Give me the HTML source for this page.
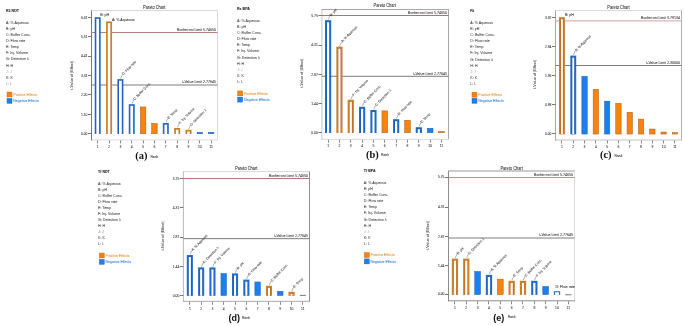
<!DOCTYPE html>
<html><head><meta charset="utf-8"><style>
html,body{margin:0;padding:0;background:#fff;}
svg{display:block;font-family:"Liberation Sans", sans-serif;will-change:transform;}
</style></head><body>
<svg width="685" height="326" viewBox="0 0 685 326">
<rect width="685" height="326" fill="#fff"/>
<text stroke="#222" stroke-width="0.05" x="6" y="12.3" font-size="3.6" font-weight="bold" fill="#222">R3 RDT</text>
<text stroke="#484848" stroke-width="0.05" x="6" y="23.90" font-size="3.6" fill="#484848">A: % Aqueous</text>
<text stroke="#484848" stroke-width="0.05" x="6" y="29.99" font-size="3.6" fill="#484848">B: pH</text>
<text stroke="#484848" stroke-width="0.05" x="6" y="36.08" font-size="3.6" fill="#484848">C: Buffer Conc.</text>
<text stroke="#484848" stroke-width="0.05" x="6" y="42.17" font-size="3.6" fill="#484848">D: Flow rate</text>
<text stroke="#484848" stroke-width="0.05" x="6" y="48.26" font-size="3.6" fill="#484848">E: Temp</text>
<text stroke="#484848" stroke-width="0.05" x="6" y="54.35" font-size="3.6" fill="#484848">F: Inj. Volume</text>
<text stroke="#484848" stroke-width="0.05" x="6" y="60.44" font-size="3.6" fill="#484848">G: Detection λ</text>
<text stroke="#484848" stroke-width="0.05" x="6" y="66.53" font-size="3.6" fill="#484848">H: H</text>
<text stroke="#bbb" stroke-width="0.05" x="6" y="72.62" font-size="3.6" fill="#bbb">J: J</text>
<text stroke="#555" stroke-width="0.05" x="6" y="78.71" font-size="3.6" fill="#555">K: K</text>
<text stroke="#999" stroke-width="0.05" x="6" y="84.80" font-size="3.6" fill="#999">L: L</text>
<rect x="7" y="92" width="5" height="5" fill="#fb820f" stroke="#b06a20" stroke-width="0.4"/>
<rect x="7" y="98.4" width="5" height="5" fill="#1a7ff0" stroke="#2a63a8" stroke-width="0.4"/>
<text stroke="#e69538" stroke-width="0.05" x="13.3" y="95.8" font-size="3.5" fill="#e69538">Positive Effects</text>
<text stroke="#3585d8" stroke-width="0.05" x="13.3" y="102.2" font-size="3.5" fill="#3585d8">Negative Effects</text>
<path d="M91.0 10.5H218.0" stroke="#d8d8d8" stroke-width="1"/>
<path d="M217.5 10.5V139.9" stroke="#d8d8d8" stroke-width="1"/>
<path d="M91.0 139.9H218.0" stroke="#dcdcdc" stroke-width="1"/>
<path d="M91.5 10.5V140.4" stroke="#777777" stroke-width="1"/>
<text stroke="#2a2a2a" stroke-width="0.05" x="0" y="0" transform="translate(143,9.200000000000001) scale(0.86,1)" font-size="4.6" fill="#2a2a2a">Pareto Chart</text>
<line x1="91.5" y1="32.5" x2="217.5" y2="32.5" stroke="#bb8080" stroke-width="1"/>
<line x1="91.5" y1="85.0" x2="217.5" y2="85.0" stroke="#7c7c7c" stroke-width="1"/>
<text stroke="#333" stroke-width="0.05" x="216.0" y="30.9" font-size="3.6" fill="#333" text-anchor="end">Bonferroni Limit 5.74650</text>
<text stroke="#333" stroke-width="0.05" x="216.0" y="83.4" font-size="3.6" fill="#333" text-anchor="end">t-Value Limit 2.77645</text>
<line x1="88.0" y1="133.5" x2="91.5" y2="133.5" stroke="#777" stroke-width="1"/>
<text stroke="#333" stroke-width="0.05" x="87.5" y="134.9" font-size="3.4" fill="#333" text-anchor="end">0.00</text>
<line x1="88.0" y1="114.5" x2="91.5" y2="114.5" stroke="#777" stroke-width="1"/>
<text stroke="#333" stroke-width="0.05" x="87.5" y="115.5" font-size="3.4" fill="#333" text-anchor="end">1.10</text>
<line x1="88.0" y1="94.5" x2="91.5" y2="94.5" stroke="#777" stroke-width="1"/>
<text stroke="#333" stroke-width="0.05" x="87.5" y="96.0" font-size="3.4" fill="#333" text-anchor="end">2.20</text>
<line x1="88.0" y1="75.5" x2="91.5" y2="75.5" stroke="#777" stroke-width="1"/>
<text stroke="#333" stroke-width="0.05" x="87.5" y="76.89999999999999" font-size="3.4" fill="#333" text-anchor="end">3.31</text>
<line x1="88.0" y1="56.5" x2="91.5" y2="56.5" stroke="#777" stroke-width="1"/>
<text stroke="#333" stroke-width="0.05" x="87.5" y="57.4" font-size="3.4" fill="#333" text-anchor="end">4.41</text>
<line x1="88.0" y1="36.5" x2="91.5" y2="36.5" stroke="#777" stroke-width="1"/>
<text stroke="#333" stroke-width="0.05" x="87.5" y="37.9" font-size="3.4" fill="#333" text-anchor="end">5.51</text>
<line x1="88.0" y1="17.5" x2="91.5" y2="17.5" stroke="#777" stroke-width="1"/>
<text stroke="#333" stroke-width="0.05" x="87.5" y="18.5" font-size="3.4" fill="#333" text-anchor="end">6.61</text>
<text stroke="#444" stroke-width="0.05" x="0" y="0" transform="translate(72.8,75.4) rotate(-90)" font-size="3.85" fill="#444" text-anchor="middle">t-Value of |Effect|</text>
<line x1="97.5" y1="140.4" x2="97.5" y2="143.4" stroke="#888" stroke-width="1"/>
<text stroke="#333" stroke-width="0.05" x="97.70" y="148.39999999999998" font-size="3.4" fill="#333" text-anchor="middle">1</text>
<rect x="94.70" y="17.20" width="6.00" height="116.80" fill="#1f6ccc"/>
<rect x="95.85" y="18.35" width="3.70" height="115.65" fill="#1b4f96" fill-opacity="0.75"/>
<rect x="96.30" y="18.80" width="2.80" height="115.20" fill="#fff"/>
<line x1="109.5" y1="140.4" x2="109.5" y2="143.4" stroke="#888" stroke-width="1"/>
<text stroke="#333" stroke-width="0.05" x="109.05" y="148.39999999999998" font-size="3.4" fill="#333" text-anchor="middle">2</text>
<rect x="106.05" y="21.50" width="6.00" height="112.50" fill="#d47d26"/>
<rect x="107.20" y="22.65" width="3.70" height="111.35" fill="#94561a" fill-opacity="0.75"/>
<rect x="107.65" y="23.10" width="2.80" height="110.90" fill="#fff"/>
<line x1="120.5" y1="140.4" x2="120.5" y2="143.4" stroke="#888" stroke-width="1"/>
<text stroke="#333" stroke-width="0.05" x="120.40" y="148.39999999999998" font-size="3.4" fill="#333" text-anchor="middle">3</text>
<rect x="117.40" y="79.10" width="6.00" height="54.90" fill="#1f6ccc"/>
<rect x="118.55" y="80.25" width="3.70" height="53.75" fill="#1b4f96" fill-opacity="0.75"/>
<rect x="119.00" y="80.70" width="2.80" height="53.30" fill="#fff"/>
<line x1="131.5" y1="140.4" x2="131.5" y2="143.4" stroke="#888" stroke-width="1"/>
<text stroke="#333" stroke-width="0.05" x="131.75" y="148.39999999999998" font-size="3.4" fill="#333" text-anchor="middle">4</text>
<rect x="128.75" y="104.20" width="6.00" height="29.80" fill="#1f6ccc"/>
<rect x="129.90" y="105.35" width="3.70" height="28.65" fill="#1b4f96" fill-opacity="0.75"/>
<rect x="130.35" y="105.80" width="2.80" height="28.20" fill="#fff"/>
<line x1="143.5" y1="140.4" x2="143.5" y2="143.4" stroke="#888" stroke-width="1"/>
<text stroke="#333" stroke-width="0.05" x="143.10" y="148.39999999999998" font-size="3.4" fill="#333" text-anchor="middle">5</text>
<rect x="140.35" y="106.95" width="5.50" height="26.80" fill="#fb820f" stroke="#9a6030" stroke-width="0.5"/>
<line x1="154.5" y1="140.4" x2="154.5" y2="143.4" stroke="#888" stroke-width="1"/>
<text stroke="#333" stroke-width="0.05" x="154.45" y="148.39999999999998" font-size="3.4" fill="#333" text-anchor="middle">6</text>
<rect x="151.70" y="123.45" width="5.50" height="10.30" fill="#fb820f" stroke="#9a6030" stroke-width="0.5"/>
<line x1="165.5" y1="140.4" x2="165.5" y2="143.4" stroke="#888" stroke-width="1"/>
<text stroke="#333" stroke-width="0.05" x="165.80" y="148.39999999999998" font-size="3.4" fill="#333" text-anchor="middle">7</text>
<rect x="162.80" y="123.00" width="6.00" height="11.00" fill="#1f6ccc"/>
<rect x="163.95" y="124.15" width="3.70" height="9.85" fill="#1b4f96" fill-opacity="0.75"/>
<rect x="164.40" y="124.60" width="2.80" height="9.40" fill="#fff"/>
<line x1="177.5" y1="140.4" x2="177.5" y2="143.4" stroke="#888" stroke-width="1"/>
<text stroke="#333" stroke-width="0.05" x="177.15" y="148.39999999999998" font-size="3.4" fill="#333" text-anchor="middle">8</text>
<rect x="174.15" y="128.00" width="6.00" height="6.00" fill="#d47d26"/>
<rect x="175.30" y="129.15" width="3.70" height="4.85" fill="#94561a" fill-opacity="0.75"/>
<rect x="175.75" y="129.60" width="2.80" height="4.40" fill="#fff"/>
<line x1="188.5" y1="140.4" x2="188.5" y2="143.4" stroke="#888" stroke-width="1"/>
<text stroke="#333" stroke-width="0.05" x="188.50" y="148.39999999999998" font-size="3.4" fill="#333" text-anchor="middle">9</text>
<rect x="185.50" y="129.80" width="6.00" height="4.20" fill="#d47d26"/>
<rect x="186.65" y="130.95" width="3.70" height="3.05" fill="#94561a" fill-opacity="0.75"/>
<rect x="187.10" y="131.40" width="2.80" height="2.60" fill="#fff"/>
<line x1="199.5" y1="140.4" x2="199.5" y2="143.4" stroke="#888" stroke-width="1"/>
<text stroke="#333" stroke-width="0.05" x="199.85" y="148.39999999999998" font-size="3.4" fill="#333" text-anchor="middle">10</text>
<rect x="197.10" y="132.25" width="5.50" height="1.50" fill="#1a7ff0" stroke="#2a63a8" stroke-width="0.5"/>
<line x1="211.5" y1="140.4" x2="211.5" y2="143.4" stroke="#888" stroke-width="1"/>
<text stroke="#333" stroke-width="0.05" x="211.20" y="148.39999999999998" font-size="3.4" fill="#333" text-anchor="middle">11</text>
<rect x="208.45" y="132.25" width="5.50" height="1.50" fill="#1a7ff0" stroke="#2a63a8" stroke-width="0.5"/>
<text stroke="#333" stroke-width="0.05" x="100.2" y="15.9" font-size="3.6" fill="#333">B: pH</text>
<text stroke="#333" stroke-width="0.05" x="111.9" y="20.8" font-size="3.6" fill="#333">A: % Aqueous</text>
<line x1="120.60" y1="78.50" x2="122.50" y2="74.50" stroke="#555" stroke-width="0.45"/>
<text stroke="#3a3a3a" stroke-width="0.05" x="0" y="1.2" transform="translate(122.50,74.50) rotate(-46)" font-size="3.45" fill="#3a3a3a">D: Flow rate</text>
<line x1="131.95" y1="103.60" x2="133.85" y2="99.60" stroke="#555" stroke-width="0.45"/>
<text stroke="#3a3a3a" stroke-width="0.05" x="0" y="1.2" transform="translate(133.85,99.60) rotate(-46)" font-size="3.45" fill="#3a3a3a">C: Buffer Conc.</text>
<line x1="166.00" y1="122.40" x2="167.90" y2="118.40" stroke="#555" stroke-width="0.45"/>
<text stroke="#3a3a3a" stroke-width="0.05" x="0" y="1.2" transform="translate(167.90,118.40) rotate(-46)" font-size="3.45" fill="#3a3a3a">E: Temp</text>
<line x1="177.35" y1="127.40" x2="179.25" y2="123.40" stroke="#555" stroke-width="0.45"/>
<text stroke="#3a3a3a" stroke-width="0.05" x="0" y="1.2" transform="translate(179.25,123.40) rotate(-46)" font-size="3.45" fill="#3a3a3a">F: Inj. Volume</text>
<line x1="188.70" y1="129.20" x2="190.60" y2="125.20" stroke="#555" stroke-width="0.45"/>
<text stroke="#3a3a3a" stroke-width="0.05" x="0" y="1.2" transform="translate(190.60,125.20) rotate(-46)" font-size="3.45" fill="#3a3a3a">G: Detection λ</text>
<text x="135.2" y="158.7" font-family="'Liberation Serif', serif" font-size="9.5" font-weight="bold" fill="#111" transform="translate(135.2,0) scale(1.1,1) translate(-135.2,0)">(a)</text>
<text stroke="#333" stroke-width="0.05" x="150.4" y="157.6" font-size="3.4" fill="#333">Rank</text>
<text stroke="#222" stroke-width="0.05" x="237" y="10.3" font-size="3.6" font-weight="bold" fill="#222">Rs BPA</text>
<text stroke="#484848" stroke-width="0.05" x="237" y="22.20" font-size="3.6" fill="#484848">A: % Aqueous</text>
<text stroke="#484848" stroke-width="0.05" x="237" y="28.25" font-size="3.6" fill="#484848">B: pH</text>
<text stroke="#484848" stroke-width="0.05" x="237" y="34.30" font-size="3.6" fill="#484848">C: Buffer Conc.</text>
<text stroke="#484848" stroke-width="0.05" x="237" y="40.35" font-size="3.6" fill="#484848">D: Flow rate</text>
<text stroke="#484848" stroke-width="0.05" x="237" y="46.40" font-size="3.6" fill="#484848">E: Temp</text>
<text stroke="#484848" stroke-width="0.05" x="237" y="52.45" font-size="3.6" fill="#484848">F: Inj. Volume</text>
<text stroke="#484848" stroke-width="0.05" x="237" y="58.50" font-size="3.6" fill="#484848">G: Detection λ</text>
<text stroke="#484848" stroke-width="0.05" x="237" y="64.55" font-size="3.6" fill="#484848">H: H</text>
<text stroke="#bbb" stroke-width="0.05" x="237" y="70.60" font-size="3.6" fill="#bbb">J: J</text>
<text stroke="#555" stroke-width="0.05" x="237" y="76.65" font-size="3.6" fill="#555">K: K</text>
<text stroke="#555" stroke-width="0.05" x="237" y="82.70" font-size="3.6" fill="#555">L: L</text>
<rect x="237.7" y="90.9" width="5" height="5" fill="#fb820f" stroke="#b06a20" stroke-width="0.4"/>
<rect x="237.7" y="97.1" width="5" height="5" fill="#1a7ff0" stroke="#2a63a8" stroke-width="0.4"/>
<text stroke="#e69538" stroke-width="0.05" x="244.0" y="94.7" font-size="3.5" fill="#e69538">Positive Effects</text>
<text stroke="#3585d8" stroke-width="0.05" x="244.0" y="100.89999999999999" font-size="3.5" fill="#3585d8">Negative Effects</text>
<path d="M321.4 9.5H449.0" stroke="#a8a8a8" stroke-width="1"/>
<path d="M448.5 9.5V139.3" stroke="#a8a8a8" stroke-width="1"/>
<path d="M321.4 139.3H449.0" stroke="#d8d8d8" stroke-width="1"/>
<path d="M321.9 9.5V139.8" stroke="#c8c8c8" stroke-width="1"/>
<text stroke="#2a2a2a" stroke-width="0.05" x="0" y="0" transform="translate(373.5,7.2) scale(0.86,1)" font-size="4.6" fill="#2a2a2a">Pareto Chart</text>
<line x1="321.9" y1="15.5" x2="448.5" y2="15.5" stroke="#b07272" stroke-width="1"/>
<line x1="321.9" y1="76.3" x2="448.5" y2="76.3" stroke="#7c7c7c" stroke-width="1"/>
<text stroke="#333" stroke-width="0.05" x="447.0" y="13.9" font-size="3.6" fill="#333" text-anchor="end">Bonferroni Limit 5.74650</text>
<text stroke="#333" stroke-width="0.05" x="447.0" y="74.7" font-size="3.6" fill="#333" text-anchor="end">t-Value Limit 2.77645</text>
<line x1="318.4" y1="132.5" x2="321.9" y2="132.5" stroke="#777" stroke-width="1"/>
<text stroke="#333" stroke-width="0.05" x="317.9" y="133.70000000000002" font-size="3.4" fill="#333" text-anchor="end">0.00</text>
<line x1="318.4" y1="103.5" x2="321.9" y2="103.5" stroke="#777" stroke-width="1"/>
<text stroke="#333" stroke-width="0.05" x="317.9" y="104.6" font-size="3.4" fill="#333" text-anchor="end">1.44</text>
<line x1="318.4" y1="74.5" x2="321.9" y2="74.5" stroke="#777" stroke-width="1"/>
<text stroke="#333" stroke-width="0.05" x="317.9" y="75.5" font-size="3.4" fill="#333" text-anchor="end">2.87</text>
<line x1="318.4" y1="45.5" x2="321.9" y2="45.5" stroke="#777" stroke-width="1"/>
<text stroke="#333" stroke-width="0.05" x="317.9" y="46.4" font-size="3.4" fill="#333" text-anchor="end">4.31</text>
<line x1="318.4" y1="15.5" x2="321.9" y2="15.5" stroke="#777" stroke-width="1"/>
<text stroke="#333" stroke-width="0.05" x="317.9" y="17.2" font-size="3.4" fill="#333" text-anchor="end">5.75</text>
<text stroke="#444" stroke-width="0.05" x="0" y="0" transform="translate(302.9,73.3) rotate(-90)" font-size="3.85" fill="#444" text-anchor="middle">t-Value of |Effect|</text>
<line x1="328.5" y1="139.8" x2="328.5" y2="142.8" stroke="#888" stroke-width="1"/>
<text stroke="#333" stroke-width="0.05" x="328.10" y="146.79999999999998" font-size="3.4" fill="#333" text-anchor="middle">1</text>
<rect x="325.00" y="20.20" width="6.20" height="112.80" fill="#1f6ccc"/>
<rect x="326.55" y="21.75" width="3.10" height="111.25" fill="#1b4f96" fill-opacity="0.75"/>
<rect x="327.00" y="22.20" width="2.20" height="110.80" fill="#fff"/>
<line x1="339.5" y1="139.8" x2="339.5" y2="142.8" stroke="#888" stroke-width="1"/>
<text stroke="#333" stroke-width="0.05" x="339.44" y="146.79999999999998" font-size="3.4" fill="#333" text-anchor="middle">2</text>
<rect x="336.34" y="46.60" width="6.20" height="86.40" fill="#d47d26"/>
<rect x="337.89" y="48.15" width="3.10" height="84.85" fill="#94561a" fill-opacity="0.75"/>
<rect x="338.34" y="48.60" width="2.20" height="84.40" fill="#fff"/>
<line x1="350.5" y1="139.8" x2="350.5" y2="142.8" stroke="#888" stroke-width="1"/>
<text stroke="#333" stroke-width="0.05" x="350.78" y="146.79999999999998" font-size="3.4" fill="#333" text-anchor="middle">3</text>
<rect x="347.68" y="99.70" width="6.20" height="33.30" fill="#d47d26"/>
<rect x="349.23" y="101.25" width="3.10" height="31.75" fill="#94561a" fill-opacity="0.75"/>
<rect x="349.68" y="101.70" width="2.20" height="31.30" fill="#fff"/>
<line x1="362.5" y1="139.8" x2="362.5" y2="142.8" stroke="#888" stroke-width="1"/>
<text stroke="#333" stroke-width="0.05" x="362.12" y="146.79999999999998" font-size="3.4" fill="#333" text-anchor="middle">4</text>
<rect x="359.02" y="106.80" width="6.20" height="26.20" fill="#1f6ccc"/>
<rect x="360.57" y="108.35" width="3.10" height="24.65" fill="#1b4f96" fill-opacity="0.75"/>
<rect x="361.02" y="108.80" width="2.20" height="24.20" fill="#fff"/>
<line x1="373.5" y1="139.8" x2="373.5" y2="142.8" stroke="#888" stroke-width="1"/>
<text stroke="#333" stroke-width="0.05" x="373.46" y="146.79999999999998" font-size="3.4" fill="#333" text-anchor="middle">5</text>
<rect x="370.36" y="110.00" width="6.20" height="23.00" fill="#1f6ccc"/>
<rect x="371.91" y="111.55" width="3.10" height="21.45" fill="#1b4f96" fill-opacity="0.75"/>
<rect x="372.36" y="112.00" width="2.20" height="21.00" fill="#fff"/>
<line x1="384.5" y1="139.8" x2="384.5" y2="142.8" stroke="#888" stroke-width="1"/>
<text stroke="#333" stroke-width="0.05" x="384.80" y="146.79999999999998" font-size="3.4" fill="#333" text-anchor="middle">6</text>
<rect x="381.95" y="110.85" width="5.70" height="21.90" fill="#fb820f" stroke="#9a6030" stroke-width="0.5"/>
<line x1="396.5" y1="139.8" x2="396.5" y2="142.8" stroke="#888" stroke-width="1"/>
<text stroke="#333" stroke-width="0.05" x="396.14" y="146.79999999999998" font-size="3.4" fill="#333" text-anchor="middle">7</text>
<rect x="393.04" y="119.20" width="6.20" height="13.80" fill="#1f6ccc"/>
<rect x="394.59" y="120.75" width="3.10" height="12.25" fill="#1b4f96" fill-opacity="0.75"/>
<rect x="395.04" y="121.20" width="2.20" height="11.80" fill="#fff"/>
<line x1="407.5" y1="139.8" x2="407.5" y2="142.8" stroke="#888" stroke-width="1"/>
<text stroke="#333" stroke-width="0.05" x="407.48" y="146.79999999999998" font-size="3.4" fill="#333" text-anchor="middle">8</text>
<rect x="404.63" y="120.25" width="5.70" height="12.50" fill="#fb820f" stroke="#9a6030" stroke-width="0.5"/>
<line x1="418.5" y1="139.8" x2="418.5" y2="142.8" stroke="#888" stroke-width="1"/>
<text stroke="#333" stroke-width="0.05" x="418.82" y="146.79999999999998" font-size="3.4" fill="#333" text-anchor="middle">9</text>
<rect x="415.72" y="127.20" width="6.20" height="5.80" fill="#1f6ccc"/>
<rect x="417.27" y="128.75" width="3.10" height="4.25" fill="#1b4f96" fill-opacity="0.75"/>
<rect x="417.72" y="129.20" width="2.20" height="3.80" fill="#fff"/>
<line x1="430.5" y1="139.8" x2="430.5" y2="142.8" stroke="#888" stroke-width="1"/>
<text stroke="#333" stroke-width="0.05" x="430.16" y="146.79999999999998" font-size="3.4" fill="#333" text-anchor="middle">10</text>
<rect x="427.31" y="128.25" width="5.70" height="4.50" fill="#1a7ff0" stroke="#2a63a8" stroke-width="0.5"/>
<line x1="441.5" y1="139.8" x2="441.5" y2="142.8" stroke="#888" stroke-width="1"/>
<text stroke="#333" stroke-width="0.05" x="441.50" y="146.79999999999998" font-size="3.4" fill="#333" text-anchor="middle">11</text>
<rect x="438.65" y="131.55" width="5.70" height="1.20" fill="#fb820f" stroke="#9a6030" stroke-width="0.5"/>
<line x1="328.30" y1="19.60" x2="330.20" y2="15.60" stroke="#555" stroke-width="0.45"/>
<text stroke="#3a3a3a" stroke-width="0.05" x="0" y="1.2" transform="translate(330.20,15.60) rotate(-46)" font-size="3.45" fill="#3a3a3a">B: pH</text>
<line x1="339.64" y1="46.00" x2="341.54" y2="42.00" stroke="#555" stroke-width="0.45"/>
<text stroke="#3a3a3a" stroke-width="0.05" x="0" y="1.2" transform="translate(341.54,42.00) rotate(-46)" font-size="3.45" fill="#3a3a3a">A: % Aqueous</text>
<line x1="350.98" y1="99.10" x2="352.88" y2="95.10" stroke="#555" stroke-width="0.45"/>
<text stroke="#3a3a3a" stroke-width="0.05" x="0" y="1.2" transform="translate(352.88,95.10) rotate(-46)" font-size="3.45" fill="#3a3a3a">F: Inj. Volume</text>
<line x1="362.32" y1="106.20" x2="364.22" y2="102.20" stroke="#555" stroke-width="0.45"/>
<text stroke="#3a3a3a" stroke-width="0.05" x="0" y="1.2" transform="translate(364.22,102.20) rotate(-46)" font-size="3.45" fill="#3a3a3a">C: Buffer Conc.</text>
<line x1="373.66" y1="109.40" x2="375.56" y2="105.40" stroke="#555" stroke-width="0.45"/>
<text stroke="#3a3a3a" stroke-width="0.05" x="0" y="1.2" transform="translate(375.56,105.40) rotate(-46)" font-size="3.45" fill="#3a3a3a">G: Detection λ</text>
<line x1="396.34" y1="118.60" x2="398.24" y2="114.60" stroke="#555" stroke-width="0.45"/>
<text stroke="#3a3a3a" stroke-width="0.05" x="0" y="1.2" transform="translate(398.24,114.60) rotate(-46)" font-size="3.45" fill="#3a3a3a">D: Flow rate</text>
<line x1="419.02" y1="126.60" x2="420.92" y2="122.60" stroke="#555" stroke-width="0.45"/>
<text stroke="#3a3a3a" stroke-width="0.05" x="0" y="1.2" transform="translate(420.92,122.60) rotate(-46)" font-size="3.45" fill="#3a3a3a">E: Temp</text>
<text x="366" y="158.2" font-family="'Liberation Serif', serif" font-size="9.5" font-weight="bold" fill="#111" transform="translate(366,0) scale(1.1,1) translate(-366,0)">(b)</text>
<text stroke="#333" stroke-width="0.05" x="381" y="156.1" font-size="3.4" fill="#333">Rank</text>
<text stroke="#222" stroke-width="0.05" x="470.3" y="11.600000000000001" font-size="3.6" font-weight="bold" fill="#222">Rt</text>
<text stroke="#484848" stroke-width="0.05" x="470.3" y="24.20" font-size="3.6" fill="#484848">A: % Aqueous</text>
<text stroke="#484848" stroke-width="0.05" x="470.3" y="30.25" font-size="3.6" fill="#484848">B: pH</text>
<text stroke="#484848" stroke-width="0.05" x="470.3" y="36.30" font-size="3.6" fill="#484848">C: Buffer Conc.</text>
<text stroke="#484848" stroke-width="0.05" x="470.3" y="42.35" font-size="3.6" fill="#484848">D: Flow rate</text>
<text stroke="#484848" stroke-width="0.05" x="470.3" y="48.40" font-size="3.6" fill="#484848">E: Temp</text>
<text stroke="#484848" stroke-width="0.05" x="470.3" y="54.45" font-size="3.6" fill="#484848">F: Inj. Volume</text>
<text stroke="#484848" stroke-width="0.05" x="470.3" y="60.50" font-size="3.6" fill="#484848">G: Detection λ</text>
<text stroke="#484848" stroke-width="0.05" x="470.3" y="66.55" font-size="3.6" fill="#484848">H: H</text>
<text stroke="#bbb" stroke-width="0.05" x="470.3" y="72.60" font-size="3.6" fill="#bbb">J: J</text>
<text stroke="#555" stroke-width="0.05" x="470.3" y="78.65" font-size="3.6" fill="#555">K: K</text>
<text stroke="#555" stroke-width="0.05" x="470.3" y="84.70" font-size="3.6" fill="#555">L: L</text>
<rect x="472" y="92.2" width="5" height="5" fill="#fb820f" stroke="#b06a20" stroke-width="0.4"/>
<rect x="472" y="98.3" width="5" height="5" fill="#1a7ff0" stroke="#2a63a8" stroke-width="0.4"/>
<text stroke="#e69538" stroke-width="0.05" x="478.3" y="96.0" font-size="3.5" fill="#e69538">Positive Effects</text>
<text stroke="#3585d8" stroke-width="0.05" x="478.3" y="102.1" font-size="3.5" fill="#3585d8">Negative Effects</text>
<path d="M555.0 10.5H682.0" stroke="#dcdcdc" stroke-width="1"/>
<path d="M681.5 10.5V140.0" stroke="#b0b0b0" stroke-width="1"/>
<path d="M555.0 140.0H682.0" stroke="#c0c0c0" stroke-width="1"/>
<path d="M555.5 10.5V140.5" stroke="#a8a8a8" stroke-width="1"/>
<text stroke="#2a2a2a" stroke-width="0.05" x="0" y="0" transform="translate(607.3,9.200000000000001) scale(0.86,1)" font-size="4.6" fill="#2a2a2a">Pareto Chart</text>
<line x1="555.5" y1="20.9" x2="681.5" y2="20.9" stroke="#d0a0a0" stroke-width="1"/>
<line x1="555.5" y1="65.5" x2="681.5" y2="65.5" stroke="#7c7c7c" stroke-width="1"/>
<text stroke="#333" stroke-width="0.05" x="680.0" y="19.299999999999997" font-size="3.6" fill="#333" text-anchor="end">Bonferroni Limit 3.79134</text>
<text stroke="#333" stroke-width="0.05" x="680.0" y="63.9" font-size="3.6" fill="#333" text-anchor="end">t-Value Limit 2.30600</text>
<line x1="552.0" y1="133.5" x2="555.5" y2="133.5" stroke="#777" stroke-width="1"/>
<text stroke="#333" stroke-width="0.05" x="551.5" y="134.9" font-size="3.4" fill="#333" text-anchor="end">0.00</text>
<line x1="552.0" y1="104.5" x2="555.5" y2="104.5" stroke="#777" stroke-width="1"/>
<text stroke="#333" stroke-width="0.05" x="551.5" y="105.7" font-size="3.4" fill="#333" text-anchor="end">0.98</text>
<line x1="552.0" y1="75.5" x2="555.5" y2="75.5" stroke="#777" stroke-width="1"/>
<text stroke="#333" stroke-width="0.05" x="551.5" y="76.7" font-size="3.4" fill="#333" text-anchor="end">1.96</text>
<line x1="552.0" y1="46.5" x2="555.5" y2="46.5" stroke="#777" stroke-width="1"/>
<text stroke="#333" stroke-width="0.05" x="551.5" y="47.5" font-size="3.4" fill="#333" text-anchor="end">2.94</text>
<line x1="552.0" y1="17.5" x2="555.5" y2="17.5" stroke="#777" stroke-width="1"/>
<text stroke="#333" stroke-width="0.05" x="551.5" y="18.6" font-size="3.4" fill="#333" text-anchor="end">3.92</text>
<text stroke="#444" stroke-width="0.05" x="0" y="0" transform="translate(535.8000000000001,74.5) rotate(-90)" font-size="3.85" fill="#444" text-anchor="middle">t-Value of |Effect|</text>
<line x1="561.5" y1="140.5" x2="561.5" y2="143.5" stroke="#888" stroke-width="1"/>
<text stroke="#333" stroke-width="0.05" x="561.95" y="148.1" font-size="3.4" fill="#333" text-anchor="middle">1</text>
<rect x="559.00" y="17.20" width="5.90" height="117.10" fill="#d47d26"/>
<rect x="560.55" y="18.75" width="2.80" height="115.55" fill="#94561a" fill-opacity="0.75"/>
<rect x="561.00" y="19.20" width="1.90" height="115.10" fill="#fff"/>
<line x1="573.5" y1="140.5" x2="573.5" y2="143.5" stroke="#888" stroke-width="1"/>
<text stroke="#333" stroke-width="0.05" x="573.25" y="148.1" font-size="3.4" fill="#333" text-anchor="middle">2</text>
<rect x="570.30" y="55.60" width="5.90" height="78.70" fill="#1f6ccc"/>
<rect x="571.85" y="57.15" width="2.80" height="77.15" fill="#1b4f96" fill-opacity="0.75"/>
<rect x="572.30" y="57.60" width="1.90" height="76.70" fill="#fff"/>
<line x1="584.5" y1="140.5" x2="584.5" y2="143.5" stroke="#888" stroke-width="1"/>
<text stroke="#333" stroke-width="0.05" x="584.55" y="148.1" font-size="3.4" fill="#333" text-anchor="middle">3</text>
<rect x="581.85" y="76.25" width="5.40" height="57.80" fill="#1a7ff0" stroke="#2a63a8" stroke-width="0.5"/>
<line x1="595.5" y1="140.5" x2="595.5" y2="143.5" stroke="#888" stroke-width="1"/>
<text stroke="#333" stroke-width="0.05" x="595.85" y="148.1" font-size="3.4" fill="#333" text-anchor="middle">4</text>
<rect x="593.15" y="89.35" width="5.40" height="44.70" fill="#fb820f" stroke="#9a6030" stroke-width="0.5"/>
<line x1="607.5" y1="140.5" x2="607.5" y2="143.5" stroke="#888" stroke-width="1"/>
<text stroke="#333" stroke-width="0.05" x="607.15" y="148.1" font-size="3.4" fill="#333" text-anchor="middle">5</text>
<rect x="604.45" y="101.15" width="5.40" height="32.90" fill="#1a7ff0" stroke="#2a63a8" stroke-width="0.5"/>
<line x1="618.5" y1="140.5" x2="618.5" y2="143.5" stroke="#888" stroke-width="1"/>
<text stroke="#333" stroke-width="0.05" x="618.45" y="148.1" font-size="3.4" fill="#333" text-anchor="middle">6</text>
<rect x="615.75" y="103.35" width="5.40" height="30.70" fill="#fb820f" stroke="#9a6030" stroke-width="0.5"/>
<line x1="629.5" y1="140.5" x2="629.5" y2="143.5" stroke="#888" stroke-width="1"/>
<text stroke="#333" stroke-width="0.05" x="629.75" y="148.1" font-size="3.4" fill="#333" text-anchor="middle">7</text>
<rect x="627.05" y="112.25" width="5.40" height="21.80" fill="#fb820f" stroke="#9a6030" stroke-width="0.5"/>
<line x1="641.5" y1="140.5" x2="641.5" y2="143.5" stroke="#888" stroke-width="1"/>
<text stroke="#333" stroke-width="0.05" x="641.05" y="148.1" font-size="3.4" fill="#333" text-anchor="middle">8</text>
<rect x="638.35" y="119.15" width="5.40" height="14.90" fill="#fb820f" stroke="#9a6030" stroke-width="0.5"/>
<line x1="652.5" y1="140.5" x2="652.5" y2="143.5" stroke="#888" stroke-width="1"/>
<text stroke="#333" stroke-width="0.05" x="652.35" y="148.1" font-size="3.4" fill="#333" text-anchor="middle">9</text>
<rect x="649.65" y="129.05" width="5.40" height="5.00" fill="#fb820f" stroke="#9a6030" stroke-width="0.5"/>
<line x1="663.5" y1="140.5" x2="663.5" y2="143.5" stroke="#888" stroke-width="1"/>
<text stroke="#333" stroke-width="0.05" x="663.65" y="148.1" font-size="3.4" fill="#333" text-anchor="middle">10</text>
<rect x="660.95" y="132.05" width="5.40" height="2.00" fill="#fb820f" stroke="#9a6030" stroke-width="0.5"/>
<line x1="674.5" y1="140.5" x2="674.5" y2="143.5" stroke="#888" stroke-width="1"/>
<text stroke="#333" stroke-width="0.05" x="674.95" y="148.1" font-size="3.4" fill="#333" text-anchor="middle">11</text>
<rect x="672.25" y="132.65" width="5.40" height="1.40" fill="#fb820f" stroke="#9a6030" stroke-width="0.5"/>
<text stroke="#333" stroke-width="0.05" x="564.9" y="16.0" font-size="3.6" fill="#333">B: pH</text>
<line x1="573.45" y1="55.00" x2="575.35" y2="51.00" stroke="#555" stroke-width="0.45"/>
<text stroke="#3a3a3a" stroke-width="0.05" x="0" y="1.2" transform="translate(575.35,51.00) rotate(-46)" font-size="3.45" fill="#3a3a3a">A: % Aqueous</text>
<text x="600.0" y="158.5" font-family="'Liberation Serif', serif" font-size="9.5" font-weight="bold" fill="#111" transform="translate(600.0,0) scale(1.1,1) translate(-600.0,0)">(c)</text>
<text stroke="#333" stroke-width="0.05" x="614.5" y="157.2" font-size="3.4" fill="#333">Rank</text>
<text stroke="#222" stroke-width="0.05" x="98" y="172.9" font-size="3.6" font-weight="bold" fill="#222">Tf RDT</text>
<text stroke="#484848" stroke-width="0.05" x="98" y="185.00" font-size="3.6" fill="#484848">A: % Aqueous</text>
<text stroke="#484848" stroke-width="0.05" x="98" y="190.97" font-size="3.6" fill="#484848">B: pH</text>
<text stroke="#484848" stroke-width="0.05" x="98" y="196.94" font-size="3.6" fill="#484848">C: Buffer Conc.</text>
<text stroke="#484848" stroke-width="0.05" x="98" y="202.91" font-size="3.6" fill="#484848">D: Flow rate</text>
<text stroke="#484848" stroke-width="0.05" x="98" y="208.88" font-size="3.6" fill="#484848">E: Temp</text>
<text stroke="#484848" stroke-width="0.05" x="98" y="214.85" font-size="3.6" fill="#484848">F: Inj. Volume</text>
<text stroke="#484848" stroke-width="0.05" x="98" y="220.82" font-size="3.6" fill="#484848">G: Detection λ</text>
<text stroke="#484848" stroke-width="0.05" x="98" y="226.79" font-size="3.6" fill="#484848">H: H</text>
<text stroke="#8a8a8a" stroke-width="0.05" x="98" y="232.76" font-size="3.6" fill="#8a8a8a">J: J</text>
<text stroke="#555" stroke-width="0.05" x="98" y="238.73" font-size="3.6" fill="#555">K: K</text>
<text stroke="#555" stroke-width="0.05" x="98" y="244.70" font-size="3.6" fill="#555">L: L</text>
<rect x="99.3" y="253" width="5" height="5" fill="#fb820f" stroke="#b06a20" stroke-width="0.4"/>
<rect x="99.3" y="259.4" width="5" height="5" fill="#1a7ff0" stroke="#2a63a8" stroke-width="0.4"/>
<text stroke="#e69538" stroke-width="0.05" x="105.6" y="256.8" font-size="3.5" fill="#e69538">Positive Effects</text>
<text stroke="#3585d8" stroke-width="0.05" x="105.6" y="263.2" font-size="3.5" fill="#3585d8">Negative Effects</text>
<path d="M182.9 171.6H310.0" stroke="#d8d8d8" stroke-width="1"/>
<path d="M309.5 171.6V301.3" stroke="#909090" stroke-width="1"/>
<path d="M182.9 301.3H310.0" stroke="#a8a8a8" stroke-width="1"/>
<path d="M183.4 171.6V301.8" stroke="#b8b8b8" stroke-width="1"/>
<text stroke="#2a2a2a" stroke-width="0.05" x="0" y="0" transform="translate(235,170.10000000000002) scale(0.86,1)" font-size="4.6" fill="#2a2a2a">Pareto Chart</text>
<line x1="183.4" y1="178.5" x2="309.5" y2="178.5" stroke="#b07a7a" stroke-width="1"/>
<line x1="183.4" y1="238.65" x2="309.5" y2="238.65" stroke="#7c7c7c" stroke-width="1"/>
<text stroke="#333" stroke-width="0.05" x="308.0" y="176.9" font-size="3.6" fill="#333" text-anchor="end">Bonferroni Limit 5.74650</text>
<text stroke="#333" stroke-width="0.05" x="308.0" y="237.05" font-size="3.6" fill="#333" text-anchor="end">t-Value Limit 2.77645</text>
<line x1="179.9" y1="295.5" x2="183.4" y2="295.5" stroke="#777" stroke-width="1"/>
<text stroke="#333" stroke-width="0.05" x="179.4" y="296.90000000000003" font-size="3.4" fill="#333" text-anchor="end">0.00</text>
<line x1="179.9" y1="266.5" x2="183.4" y2="266.5" stroke="#777" stroke-width="1"/>
<text stroke="#333" stroke-width="0.05" x="179.4" y="267.7" font-size="3.4" fill="#333" text-anchor="end">1.44</text>
<line x1="179.9" y1="237.5" x2="183.4" y2="237.5" stroke="#777" stroke-width="1"/>
<text stroke="#333" stroke-width="0.05" x="179.4" y="238.4" font-size="3.4" fill="#333" text-anchor="end">2.87</text>
<line x1="179.9" y1="207.5" x2="183.4" y2="207.5" stroke="#777" stroke-width="1"/>
<text stroke="#333" stroke-width="0.05" x="179.4" y="209.10000000000002" font-size="3.4" fill="#333" text-anchor="end">4.31</text>
<line x1="179.9" y1="178.5" x2="183.4" y2="178.5" stroke="#777" stroke-width="1"/>
<text stroke="#333" stroke-width="0.05" x="179.4" y="179.8" font-size="3.4" fill="#333" text-anchor="end">5.75</text>
<text stroke="#444" stroke-width="0.05" x="0" y="0" transform="translate(163.79999999999998,236.1) rotate(-90)" font-size="3.85" fill="#444" text-anchor="middle">t-Value of |Effect|</text>
<line x1="189.5" y1="301.8" x2="189.5" y2="304.8" stroke="#888" stroke-width="1"/>
<text stroke="#333" stroke-width="0.05" x="189.85" y="309.59999999999997" font-size="3.4" fill="#333" text-anchor="middle">1</text>
<rect x="186.80" y="255.00" width="6.10" height="40.80" fill="#1f6ccc"/>
<rect x="188.35" y="256.55" width="3.00" height="39.25" fill="#1b4f96" fill-opacity="0.75"/>
<rect x="188.80" y="257.00" width="2.10" height="38.80" fill="#fff"/>
<line x1="201.5" y1="301.8" x2="201.5" y2="304.8" stroke="#888" stroke-width="1"/>
<text stroke="#333" stroke-width="0.05" x="201.15" y="309.59999999999997" font-size="3.4" fill="#333" text-anchor="middle">2</text>
<rect x="198.10" y="267.40" width="6.10" height="28.40" fill="#1f6ccc"/>
<rect x="199.65" y="268.95" width="3.00" height="26.85" fill="#1b4f96" fill-opacity="0.75"/>
<rect x="200.10" y="269.40" width="2.10" height="26.40" fill="#fff"/>
<line x1="212.5" y1="301.8" x2="212.5" y2="304.8" stroke="#888" stroke-width="1"/>
<text stroke="#333" stroke-width="0.05" x="212.45" y="309.59999999999997" font-size="3.4" fill="#333" text-anchor="middle">3</text>
<rect x="209.40" y="267.40" width="6.10" height="28.40" fill="#1f6ccc"/>
<rect x="210.95" y="268.95" width="3.00" height="26.85" fill="#1b4f96" fill-opacity="0.75"/>
<rect x="211.40" y="269.40" width="2.10" height="26.40" fill="#fff"/>
<line x1="223.5" y1="301.8" x2="223.5" y2="304.8" stroke="#888" stroke-width="1"/>
<text stroke="#333" stroke-width="0.05" x="223.75" y="309.59999999999997" font-size="3.4" fill="#333" text-anchor="middle">4</text>
<rect x="220.95" y="273.45" width="5.60" height="22.10" fill="#1a7ff0" stroke="#2a63a8" stroke-width="0.5"/>
<line x1="235.5" y1="301.8" x2="235.5" y2="304.8" stroke="#888" stroke-width="1"/>
<text stroke="#333" stroke-width="0.05" x="235.05" y="309.59999999999997" font-size="3.4" fill="#333" text-anchor="middle">5</text>
<rect x="232.00" y="273.40" width="6.10" height="22.40" fill="#1f6ccc"/>
<rect x="233.55" y="274.95" width="3.00" height="20.85" fill="#1b4f96" fill-opacity="0.75"/>
<rect x="234.00" y="275.40" width="2.10" height="20.40" fill="#fff"/>
<line x1="246.5" y1="301.8" x2="246.5" y2="304.8" stroke="#888" stroke-width="1"/>
<text stroke="#333" stroke-width="0.05" x="246.35" y="309.59999999999997" font-size="3.4" fill="#333" text-anchor="middle">6</text>
<rect x="243.30" y="279.60" width="6.10" height="16.20" fill="#1f6ccc"/>
<rect x="244.85" y="281.15" width="3.00" height="14.65" fill="#1b4f96" fill-opacity="0.75"/>
<rect x="245.30" y="281.60" width="2.10" height="14.20" fill="#fff"/>
<line x1="257.5" y1="301.8" x2="257.5" y2="304.8" stroke="#888" stroke-width="1"/>
<text stroke="#333" stroke-width="0.05" x="257.65" y="309.59999999999997" font-size="3.4" fill="#333" text-anchor="middle">7</text>
<rect x="254.85" y="281.95" width="5.60" height="13.60" fill="#1a7ff0" stroke="#2a63a8" stroke-width="0.5"/>
<line x1="268.5" y1="301.8" x2="268.5" y2="304.8" stroke="#888" stroke-width="1"/>
<text stroke="#333" stroke-width="0.05" x="268.95" y="309.59999999999997" font-size="3.4" fill="#333" text-anchor="middle">8</text>
<rect x="265.90" y="285.80" width="6.10" height="10.00" fill="#d47d26"/>
<rect x="267.45" y="287.35" width="3.00" height="8.45" fill="#94561a" fill-opacity="0.75"/>
<rect x="267.90" y="287.80" width="2.10" height="8.00" fill="#fff"/>
<line x1="280.5" y1="301.8" x2="280.5" y2="304.8" stroke="#888" stroke-width="1"/>
<text stroke="#333" stroke-width="0.05" x="280.25" y="309.59999999999997" font-size="3.4" fill="#333" text-anchor="middle">9</text>
<rect x="277.45" y="291.25" width="5.60" height="4.30" fill="#1a7ff0" stroke="#2a63a8" stroke-width="0.5"/>
<line x1="291.5" y1="301.8" x2="291.5" y2="304.8" stroke="#888" stroke-width="1"/>
<text stroke="#333" stroke-width="0.05" x="291.55" y="309.59999999999997" font-size="3.4" fill="#333" text-anchor="middle">10</text>
<rect x="288.50" y="291.80" width="6.10" height="4.00" fill="#d47d26"/>
<rect x="290.05" y="293.35" width="3.00" height="2.45" fill="#94561a" fill-opacity="0.75"/>
<rect x="290.50" y="293.80" width="2.10" height="2.00" fill="#fff"/>
<line x1="302.5" y1="301.8" x2="302.5" y2="304.8" stroke="#888" stroke-width="1"/>
<text stroke="#333" stroke-width="0.05" x="302.85" y="309.59999999999997" font-size="3.4" fill="#333" text-anchor="middle">11</text>
<rect x="299.80" y="294.90" width="6.10" height="0.8" fill="#555"/>
<line x1="190.05" y1="254.40" x2="191.95" y2="250.40" stroke="#555" stroke-width="0.45"/>
<text stroke="#3a3a3a" stroke-width="0.05" x="0" y="1.2" transform="translate(191.95,250.40) rotate(-46)" font-size="3.45" fill="#3a3a3a">A: % Aqueous</text>
<line x1="201.35" y1="266.80" x2="203.25" y2="262.80" stroke="#555" stroke-width="0.45"/>
<text stroke="#3a3a3a" stroke-width="0.05" x="0" y="1.2" transform="translate(203.25,262.80) rotate(-46)" font-size="3.45" fill="#3a3a3a">G: Detection λ</text>
<line x1="212.65" y1="266.80" x2="214.55" y2="262.80" stroke="#555" stroke-width="0.45"/>
<text stroke="#3a3a3a" stroke-width="0.05" x="0" y="1.2" transform="translate(214.55,262.80) rotate(-46)" font-size="3.45" fill="#3a3a3a">F: Inj. Volume</text>
<line x1="235.25" y1="272.80" x2="237.15" y2="268.80" stroke="#555" stroke-width="0.45"/>
<text stroke="#3a3a3a" stroke-width="0.05" x="0" y="1.2" transform="translate(237.15,268.80) rotate(-46)" font-size="3.45" fill="#3a3a3a">B: pH</text>
<line x1="246.55" y1="279.00" x2="248.45" y2="275.00" stroke="#555" stroke-width="0.45"/>
<text stroke="#3a3a3a" stroke-width="0.05" x="0" y="1.2" transform="translate(248.45,275.00) rotate(-46)" font-size="3.45" fill="#3a3a3a">D: Flow rate</text>
<line x1="269.15" y1="285.20" x2="271.05" y2="281.20" stroke="#555" stroke-width="0.45"/>
<text stroke="#3a3a3a" stroke-width="0.05" x="0" y="1.2" transform="translate(271.05,281.20) rotate(-46)" font-size="3.45" fill="#3a3a3a">C: Buffer Conc.</text>
<line x1="291.75" y1="291.20" x2="293.65" y2="287.20" stroke="#555" stroke-width="0.45"/>
<text stroke="#3a3a3a" stroke-width="0.05" x="0" y="1.2" transform="translate(293.65,287.20) rotate(-46)" font-size="3.45" fill="#3a3a3a">E: Temp</text>
<text x="228.6" y="320.6" font-family="'Liberation Sans', sans-serif" font-size="9" font-weight="bold" fill="#111">(d)</text>
<text stroke="#333" stroke-width="0.05" x="242.1" y="318.5" font-size="3.4" fill="#333">Rank</text>
<text stroke="#222" stroke-width="0.05" x="363.8" y="171.8" font-size="3.6" font-weight="bold" fill="#222">Tf BPA</text>
<text stroke="#484848" stroke-width="0.05" x="363.8" y="184.20" font-size="3.6" fill="#484848">A: % Aqueous</text>
<text stroke="#484848" stroke-width="0.05" x="363.8" y="190.25" font-size="3.6" fill="#484848">B: pH</text>
<text stroke="#484848" stroke-width="0.05" x="363.8" y="196.30" font-size="3.6" fill="#484848">C: Buffer Conc.</text>
<text stroke="#484848" stroke-width="0.05" x="363.8" y="202.35" font-size="3.6" fill="#484848">D: Flow rate</text>
<text stroke="#484848" stroke-width="0.05" x="363.8" y="208.40" font-size="3.6" fill="#484848">E: Temp</text>
<text stroke="#484848" stroke-width="0.05" x="363.8" y="214.45" font-size="3.6" fill="#484848">F: Inj. Volume</text>
<text stroke="#484848" stroke-width="0.05" x="363.8" y="220.50" font-size="3.6" fill="#484848">G: Detection λ</text>
<text stroke="#484848" stroke-width="0.05" x="363.8" y="226.55" font-size="3.6" fill="#484848">H: H</text>
<text stroke="#bbb" stroke-width="0.05" x="363.8" y="232.60" font-size="3.6" fill="#bbb">J: J</text>
<text stroke="#555" stroke-width="0.05" x="363.8" y="238.65" font-size="3.6" fill="#555">K: K</text>
<text stroke="#555" stroke-width="0.05" x="363.8" y="244.70" font-size="3.6" fill="#555">L: L</text>
<rect x="364.3" y="252.6" width="5" height="5" fill="#fb820f" stroke="#b06a20" stroke-width="0.4"/>
<rect x="364.3" y="258.9" width="5" height="5" fill="#1a7ff0" stroke="#2a63a8" stroke-width="0.4"/>
<text stroke="#e69538" stroke-width="0.05" x="370.6" y="256.4" font-size="3.5" fill="#e69538">Positive Effects</text>
<text stroke="#3585d8" stroke-width="0.05" x="370.6" y="262.7" font-size="3.5" fill="#3585d8">Negative Effects</text>
<path d="M448.0 171.0H575.0" stroke="#999999" stroke-width="1"/>
<path d="M574.5 171.0V300.8" stroke="#dcdcdc" stroke-width="1"/>
<path d="M448.0 300.8H575.0" stroke="#8c8c8c" stroke-width="1"/>
<path d="M448.5 171.0V301.3" stroke="#8c8c8c" stroke-width="1"/>
<text stroke="#2a2a2a" stroke-width="0.05" x="0" y="0" transform="translate(500.4,169.8) scale(0.86,1)" font-size="4.6" fill="#2a2a2a">Pareto Chart</text>
<line x1="448.5" y1="177.5" x2="574.5" y2="177.5" stroke="#c48c8c" stroke-width="1"/>
<line x1="448.5" y1="238.0" x2="574.5" y2="238.0" stroke="#7c7c7c" stroke-width="1"/>
<text stroke="#333" stroke-width="0.05" x="573.0" y="175.9" font-size="3.6" fill="#333" text-anchor="end">Bonferroni Limit 5.74650</text>
<text stroke="#333" stroke-width="0.05" x="573.0" y="236.4" font-size="3.6" fill="#333" text-anchor="end">t-Value Limit 2.77645</text>
<line x1="445.0" y1="294.5" x2="448.5" y2="294.5" stroke="#777" stroke-width="1"/>
<text stroke="#333" stroke-width="0.05" x="444.5" y="295.40000000000003" font-size="3.4" fill="#333" text-anchor="end">0.00</text>
<line x1="445.0" y1="265.5" x2="448.5" y2="265.5" stroke="#777" stroke-width="1"/>
<text stroke="#333" stroke-width="0.05" x="444.5" y="266.6" font-size="3.4" fill="#333" text-anchor="end">1.44</text>
<line x1="445.0" y1="236.5" x2="448.5" y2="236.5" stroke="#777" stroke-width="1"/>
<text stroke="#333" stroke-width="0.05" x="444.5" y="238.10000000000002" font-size="3.4" fill="#333" text-anchor="end">2.87</text>
<line x1="445.0" y1="207.5" x2="448.5" y2="207.5" stroke="#777" stroke-width="1"/>
<text stroke="#333" stroke-width="0.05" x="444.5" y="208.3" font-size="3.4" fill="#333" text-anchor="end">4.31</text>
<line x1="445.0" y1="177.5" x2="448.5" y2="177.5" stroke="#777" stroke-width="1"/>
<text stroke="#333" stroke-width="0.05" x="444.5" y="178.4" font-size="3.4" fill="#333" text-anchor="end">5.75</text>
<text stroke="#444" stroke-width="0.05" x="0" y="0" transform="translate(428.8,235.7) rotate(-90)" font-size="3.85" fill="#444" text-anchor="middle">t-Value of |Effect|</text>
<line x1="454.5" y1="301.3" x2="454.5" y2="304.3" stroke="#888" stroke-width="1"/>
<text stroke="#333" stroke-width="0.05" x="454.95" y="308.9" font-size="3.4" fill="#333" text-anchor="middle">1</text>
<rect x="451.80" y="258.60" width="6.30" height="36.30" fill="#d47d26"/>
<rect x="453.35" y="260.15" width="3.20" height="34.75" fill="#94561a" fill-opacity="0.75"/>
<rect x="453.80" y="260.60" width="2.30" height="34.30" fill="#fff"/>
<line x1="466.5" y1="301.3" x2="466.5" y2="304.3" stroke="#888" stroke-width="1"/>
<text stroke="#333" stroke-width="0.05" x="466.29" y="308.9" font-size="3.4" fill="#333" text-anchor="middle">2</text>
<rect x="463.14" y="258.60" width="6.30" height="36.30" fill="#d47d26"/>
<rect x="464.69" y="260.15" width="3.20" height="34.75" fill="#94561a" fill-opacity="0.75"/>
<rect x="465.14" y="260.60" width="2.30" height="34.30" fill="#fff"/>
<line x1="477.5" y1="301.3" x2="477.5" y2="304.3" stroke="#888" stroke-width="1"/>
<text stroke="#333" stroke-width="0.05" x="477.63" y="308.9" font-size="3.4" fill="#333" text-anchor="middle">3</text>
<rect x="474.73" y="271.45" width="5.80" height="23.20" fill="#1a7ff0" stroke="#2a63a8" stroke-width="0.5"/>
<line x1="488.5" y1="301.3" x2="488.5" y2="304.3" stroke="#888" stroke-width="1"/>
<text stroke="#333" stroke-width="0.05" x="488.97" y="308.9" font-size="3.4" fill="#333" text-anchor="middle">4</text>
<rect x="485.82" y="274.90" width="6.30" height="20.00" fill="#1f6ccc"/>
<rect x="487.37" y="276.45" width="3.20" height="18.45" fill="#1b4f96" fill-opacity="0.75"/>
<rect x="487.82" y="276.90" width="2.30" height="18.00" fill="#fff"/>
<line x1="500.5" y1="301.3" x2="500.5" y2="304.3" stroke="#888" stroke-width="1"/>
<text stroke="#333" stroke-width="0.05" x="500.31" y="308.9" font-size="3.4" fill="#333" text-anchor="middle">5</text>
<rect x="497.41" y="279.15" width="5.80" height="15.50" fill="#fb820f" stroke="#9a6030" stroke-width="0.5"/>
<line x1="511.5" y1="301.3" x2="511.5" y2="304.3" stroke="#888" stroke-width="1"/>
<text stroke="#333" stroke-width="0.05" x="511.65" y="308.9" font-size="3.4" fill="#333" text-anchor="middle">6</text>
<rect x="508.50" y="280.80" width="6.30" height="14.10" fill="#d47d26"/>
<rect x="510.05" y="282.35" width="3.20" height="12.55" fill="#94561a" fill-opacity="0.75"/>
<rect x="510.50" y="282.80" width="2.30" height="12.10" fill="#fff"/>
<line x1="522.5" y1="301.3" x2="522.5" y2="304.3" stroke="#888" stroke-width="1"/>
<text stroke="#333" stroke-width="0.05" x="522.99" y="308.9" font-size="3.4" fill="#333" text-anchor="middle">7</text>
<rect x="519.84" y="280.80" width="6.30" height="14.10" fill="#d47d26"/>
<rect x="521.39" y="282.35" width="3.20" height="12.55" fill="#94561a" fill-opacity="0.75"/>
<rect x="521.84" y="282.80" width="2.30" height="12.10" fill="#fff"/>
<line x1="534.5" y1="301.3" x2="534.5" y2="304.3" stroke="#888" stroke-width="1"/>
<text stroke="#333" stroke-width="0.05" x="534.33" y="308.9" font-size="3.4" fill="#333" text-anchor="middle">8</text>
<rect x="531.18" y="280.80" width="6.30" height="14.10" fill="#1f6ccc"/>
<rect x="532.73" y="282.35" width="3.20" height="12.55" fill="#1b4f96" fill-opacity="0.75"/>
<rect x="533.18" y="282.80" width="2.30" height="12.10" fill="#fff"/>
<line x1="545.5" y1="301.3" x2="545.5" y2="304.3" stroke="#888" stroke-width="1"/>
<text stroke="#333" stroke-width="0.05" x="545.67" y="308.9" font-size="3.4" fill="#333" text-anchor="middle">9</text>
<rect x="542.77" y="286.45" width="5.80" height="8.20" fill="#1a7ff0" stroke="#2a63a8" stroke-width="0.5"/>
<line x1="557.5" y1="301.3" x2="557.5" y2="304.3" stroke="#888" stroke-width="1"/>
<text stroke="#333" stroke-width="0.05" x="557.01" y="308.9" font-size="3.4" fill="#333" text-anchor="middle">10</text>
<rect x="553.86" y="291.30" width="6.30" height="3.60" fill="#1f6ccc"/>
<rect x="554.41" y="291.85" width="5.20" height="3.05" fill="#1b4f96" fill-opacity="0.75"/>
<rect x="554.86" y="292.30" width="4.30" height="2.60" fill="#fff"/>
<line x1="568.5" y1="301.3" x2="568.5" y2="304.3" stroke="#888" stroke-width="1"/>
<text stroke="#333" stroke-width="0.05" x="568.35" y="308.9" font-size="3.4" fill="#333" text-anchor="middle">11</text>
<rect x="565.20" y="294.40" width="6.30" height="0.8" fill="#555"/>
<line x1="455.15" y1="258.00" x2="457.05" y2="254.00" stroke="#555" stroke-width="0.45"/>
<text stroke="#3a3a3a" stroke-width="0.05" x="0" y="1.2" transform="translate(457.05,254.00) rotate(-46)" font-size="3.45" fill="#3a3a3a">B: pH</text>
<line x1="466.49" y1="258.00" x2="468.39" y2="254.00" stroke="#555" stroke-width="0.45"/>
<text stroke="#3a3a3a" stroke-width="0.05" x="0" y="1.2" transform="translate(468.39,254.00) rotate(-46)" font-size="3.45" fill="#3a3a3a">G: Detection λ</text>
<line x1="489.17" y1="274.30" x2="491.07" y2="270.30" stroke="#555" stroke-width="0.45"/>
<text stroke="#3a3a3a" stroke-width="0.05" x="0" y="1.2" transform="translate(491.07,270.30) rotate(-46)" font-size="3.45" fill="#3a3a3a">A: % Aqueous</text>
<line x1="511.85" y1="280.20" x2="513.75" y2="276.20" stroke="#555" stroke-width="0.45"/>
<text stroke="#3a3a3a" stroke-width="0.05" x="0" y="1.2" transform="translate(513.75,276.20) rotate(-46)" font-size="3.45" fill="#3a3a3a">E: Temp</text>
<line x1="523.19" y1="280.20" x2="525.09" y2="276.20" stroke="#555" stroke-width="0.45"/>
<text stroke="#3a3a3a" stroke-width="0.05" x="0" y="1.2" transform="translate(525.09,276.20) rotate(-46)" font-size="3.45" fill="#3a3a3a">C: Buffer Conc.</text>
<line x1="534.53" y1="280.20" x2="536.43" y2="276.20" stroke="#555" stroke-width="0.45"/>
<text stroke="#3a3a3a" stroke-width="0.05" x="0" y="1.2" transform="translate(536.43,276.20) rotate(-46)" font-size="3.45" fill="#3a3a3a">F: Inj. Volume</text>
<text stroke="#333" stroke-width="0.05" x="555.5" y="287.8" font-size="3.6" fill="#333">D: Flow rate</text>
<text x="493.3" y="320.6" font-family="'Liberation Sans', sans-serif" font-size="9" font-weight="bold" fill="#111">(e)</text>
<text stroke="#333" stroke-width="0.05" x="507.7" y="317.9" font-size="3.4" fill="#333">Rank</text>
</svg>
</body></html>
